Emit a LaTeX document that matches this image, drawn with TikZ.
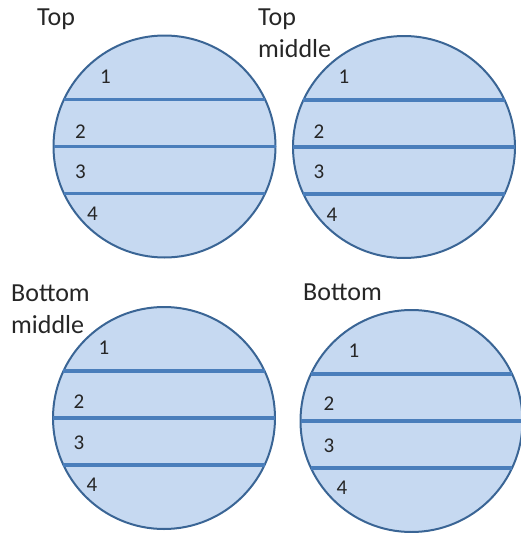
\documentclass[tikz,border=0pt]{standalone}
\usepackage{fontspec}
\setmainfont{Carlito}
\usetikzlibrary{positioning}

\definecolor{wafer}{HTML}{C6D9F1}
\definecolor{rim}{HTML}{3A6595}
\definecolor{cut}{HTML}{4A7EBB}

\tikzset{
  disc/.style={circle, draw=rim, fill=wafer, line width=2pt, minimum size=222pt, outer sep=0pt},
  slice/.style={cut, line width=3.2pt},
  num/.style={font=\fontsize{21}{24}\selectfont, text=black!85, inner sep=0pt},
  title/.style={font=\fontsize{26}{32}\selectfont, text=black!85, inner sep=0pt, anchor=base west, align=left}
}

\begin{document}
\begin{tikzpicture}[x=1pt, y=-1pt]
\useasboundingbox (0,0) rectangle (520,533);

% titles (multi-line ones sit on their last baseline)
\node[title] (ttop) at (37,25) {Top};
\node[title] (ttopmid) at (258,57) {Top\\middle};
\node[title] (tbotmid) at (11,333) {Bottom\\middle};
\node[title] (tbot) at (303,300) {Bottom};

% top
\node[disc] (w1) at (164.5,146.5) {};
\draw[slice] (w1.155) -- (w1.25);
\draw[slice] (w1.west) -- (w1.east);
\draw[slice] (w1.205) -- (w1.-25);
\node[num] (w1a) at ([shift={(-59,-70)}]w1.center) {1};
\node[num] (w1b) at ([shift={(-84,-15)}]w1.center) {2};
\node[num] (w1c) at ([shift={(-84,25)}]w1.center) {3};
\node[num] (w1d) at ([shift={(-72,67)}]w1.center) {4};

% top middle
\node[disc] (w2) at (404,147) {};
\draw[slice] (w2.155) -- (w2.25);
\draw[slice] (w2.west) -- (w2.east);
\draw[slice] (w2.205) -- (w2.-25);
\node[num] (w2a) at ([shift={(-60,-70)}]w2.center) {1};
\node[num] (w2b) at ([shift={(-85,-15)}]w2.center) {2};
\node[num] (w2c) at ([shift={(-85,25)}]w2.center) {3};
\node[num] (w2d) at ([shift={(-72,68)}]w2.center) {4};

% bottom middle
\node[disc] (w3) at (164,418) {};
\draw[slice] (w3.155) -- (w3.25);
\draw[slice] (w3.west) -- (w3.east);
\draw[slice] (w3.205) -- (w3.-25);
\node[num] (w3a) at ([shift={(-60,-70)}]w3.center) {1};
\node[num] (w3b) at ([shift={(-85,-16)}]w3.center) {2};
\node[num] (w3c) at ([shift={(-85,25)}]w3.center) {3};
\node[num] (w3d) at ([shift={(-72,67)}]w3.center) {4};

% bottom
\node[disc] (w4) at (411.5,421) {};
\draw[slice] (w4.155) -- (w4.25);
\draw[slice] (w4.west) -- (w4.east);
\draw[slice] (w4.205) -- (w4.-25);
\node[num] (w4a) at ([shift={(-57.5,-70)}]w4.center) {1};
\node[num] (w4b) at ([shift={(-82.5,-17)}]w4.center) {2};
\node[num] (w4c) at ([shift={(-82.5,25)}]w4.center) {3};
\node[num] (w4d) at ([shift={(-69.5,67)}]w4.center) {4};
\end{tikzpicture}
\end{document}
